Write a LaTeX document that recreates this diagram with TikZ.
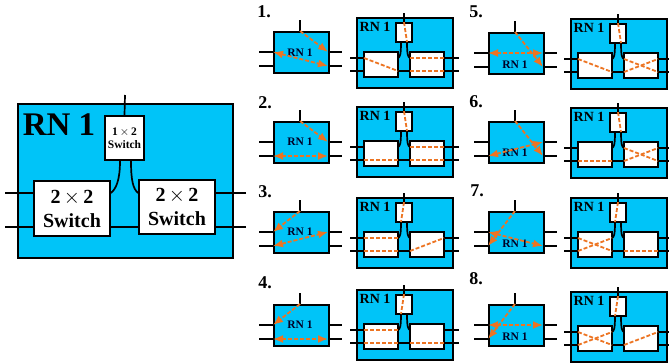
\documentclass[tikz,border=0pt]{standalone}
\usepackage{fontspec}
\setmainfont{Liberation Serif}
\usetikzlibrary{arrows.meta}
\definecolor{rnblue}{HTML}{00C4F8}
\definecolor{rnorange}{HTML}{ED7422}
\tikzset{
  wire/.style={draw=black,line width=1.7pt},
  rnbox/.style={draw=black,fill=rnblue,line width=1.7pt,inner sep=0pt},
  swbox/.style={draw=black,fill=white,line width=1.7pt,inner sep=0pt,font=\bfseries,align=center},
  route/.style={draw=rnorange,line width=1.8pt,dash pattern=on 4pt off 2pt},
  routetip/.style={route,{Latex[length=10pt,width=8pt]}-{Latex[length=10pt,width=8pt]}},
  routeone/.style={route,-{Latex[length=10pt,width=8pt]}},
  numlabel/.style={font=\fontsize{18}{18}\selectfont\bfseries,inner sep=0pt},
}
% small panel: name, x, y, y of its label
\newcommand{\smallrn}[4]{
  \begin{scope}[shift={(#2,#3)}]
    \node[rnbox,anchor=north west,minimum width=55pt,minimum height=41pt] (#1box) at (0,0) {};
    \coordinate (#1N) at (27,0);
    \coordinate (#1W1) at (0,21);
    \coordinate (#1W2) at (0,35);
    \coordinate (#1E1) at (55,21);
    \coordinate (#1E2) at (55,35);
    \coordinate (#1stub) at (27,-11);
    \coordinate (#1wa) at (-14,21);
    \coordinate (#1wb) at (-14,35);
    \coordinate (#1ea) at (69,21);
    \coordinate (#1eb) at (69,35);
    \draw[wire] (#1stub) -- (#1N);
    \draw[wire] (#1wa) -- (#1W1);
    \draw[wire] (#1wb) -- (#1W2);
    \draw[wire] (#1E1) -- (#1ea);
    \draw[wire] (#1E2) -- (#1eb);
    \node[font=\fontsize{11.5}{12}\selectfont\bfseries,inner sep=0pt,text=black!85!blue] (#1text) at (27,#4) {RN 1};
  \end{scope}
}
% detail panel: name, x, y
\newcommand{\detailrn}[3]{
  \begin{scope}[shift={(#2,#3)}]
    \node[rnbox,anchor=north west,minimum width=96pt,minimum height=70pt] (#1box) at (0,0) {};
    \node[font=\fontsize{14}{14}\selectfont\bfseries,inner sep=0pt] (#1text) at (19,10) {RN 1};
    \node[swbox,minimum width=16pt,minimum height=19pt] (#1t) at (48,15.5) {};
    \node[swbox,minimum width=34pt,minimum height=25pt] (#1l) at (25,47.5) {};
    \node[swbox,minimum width=34pt,minimum height=25pt] (#1r) at (71,47.5) {};
    \coordinate (#1stub) at (48,-4);
    \coordinate (#1wa) at (-6,41);
    \coordinate (#1wb) at (-6,54);
    \coordinate (#1ea) at (103,41);
    \coordinate (#1eb) at (103,54);
    \coordinate (#1ul) at (45,25);
    \coordinate (#1ur) at (51,25);
    \coordinate (#1la) at (8,41);
    \coordinate (#1lb) at (8,54);
    \coordinate (#1lc) at (42,41);
    \coordinate (#1ld) at (42,54);
    \coordinate (#1ra) at (54,41);
    \coordinate (#1rb) at (54,54);
    \coordinate (#1rc) at (88,41);
    \coordinate (#1rd) at (88,54);
    \draw[wire] (#1stub) -- (#1t.north);
    \draw[wire] (#1wa) -- (#1la);
    \draw[wire] (#1wb) -- (#1lb);
    \draw[wire] (#1rc) -- (#1ea);
    \draw[wire] (#1rd) -- (#1eb);
    \draw[wire] (#1ld) -- (#1rb);
    \draw[wire] (#1ul) .. controls +(0,13) and +(2,-1) .. (#1lc);
    \draw[wire] (#1ur) .. controls +(0,13) and +(-2,-1) .. (#1ra);
  \end{scope}
}
\begin{document}
\begin{tikzpicture}[x=1pt,y=-1pt]
  \useasboundingbox (0,0) rectangle (669,362);
%
  \node[rnbox,anchor=north west,minimum width=215pt,minimum height=154pt] (big) at (17,103) {};
  \node[font=\fontsize{33}{33}\selectfont\bfseries,inner sep=0pt] (bigtext) at (59,125) {RN 1};
  \node[swbox,minimum width=39pt,minimum height=44pt,font=\fontsize{11.5}{13}\selectfont\bfseries] (bigt) at (124.5,138) {1\,$\times$\,2\\Switch};
  \node[swbox,minimum width=76pt,minimum height=55pt,font=\fontsize{20}{24}\selectfont\bfseries] (bigl) at (72,208.5) {2\,$\times$\,2\\Switch};
  \node[swbox,minimum width=76pt,minimum height=54pt,font=\fontsize{20}{24}\selectfont\bfseries] (bigr) at (177,207) {2\,$\times$\,2\\Switch};
%
  \coordinate (bigstub) at (125,95);
  \coordinate (bigwa) at (5,193);
  \coordinate (bigwb) at (5,227);
  \coordinate (bigea) at (246,193);
  \coordinate (bigeb) at (246,227);
  \draw[wire] (bigstub) -- (bigt.north);
  \draw[wire] (bigwa) -- (bigwa -| bigl.west);
  \draw[wire] (bigwb) -- (bigwb -| bigl.west);
  \draw[wire] (bigea) -- (bigea -| bigr.east);
  \draw[wire] (bigeb) -- (bigeb -| bigr.east);
  \draw[wire] (bigwb -| bigl.east) -- (bigwb -| bigr.west);
  \draw[wire] ([xshift=-4.5pt]bigt.south) .. controls +(0,20) and +(5,-4) .. (bigwa -| bigl.east);
  \draw[wire] ([xshift=6.5pt]bigt.south) .. controls +(0,20) and +(-5,-4) .. (bigwa -| bigr.west);
%
  \foreach \n/\nx/\ny/\sx/\sy/\ty/\dx/\dy/\pa/\pb/\pc in {
    1/264/12/273/31/22/356/17/E1/W1/E2,
    2/265/103/273/121/21/356/106/E1/W2/E2,
    3/265/192/273/211/21/356/197/W1/W2/E1,
    4/265/283/273/304/21/356/289/W1/W2/E2,
    5/476/12/488/32/33/570/18/E2/W1/E1,
    6/476/102/488/121/32/570/107/E2/W2/E1,
    7/477/191/488/211/33/570/197/W2/W1/E2,
    8/476/279/488/304/33/570/291/W2/W1/E1}{
    \node[numlabel] (num\n) at (\nx,\ny) {\n.};
    \smallrn{s\n}{\sx}{\sy}{\ty}
    \detailrn{d\n}{\dx}{\dy}
    \draw[routeone] (s\n N) -- (s\n\pa);
    \draw[routetip] (s\n\pb) -- (s\n\pc);
  }
%
  \draw[route] (d1t.north) -- (d1ur);
  \draw[route] (d1la) -- (d1ld);
  \draw[route] (d1ra) -- (d1rc);
  \draw[route] (d1rb) -- (d1rd);
%
  \draw[route] (d2t.north) -- (d2ur);
  \draw[route] (d2lb) -- (d2ld);
  \draw[route] (d2ra) -- (d2rc);
  \draw[route] (d2rb) -- (d2rd);
%
  \draw[route] (d3t.north) -- (d3ul);
  \draw[route] (d3la) -- (d3lc);
  \draw[route] (d3lb) -- (d3ld);
  \draw[route] (d3rb) -- (d3rc);
%
  \draw[route] (d4t.north) -- (d4ul);
  \draw[route] (d4la) -- (d4lc);
  \draw[route] (d4lb) -- (d4ld);
  \draw[route] (d4rb) -- (d4rd);
%
  \draw[route] (d5t.north) -- (d5ur);
  \draw[route] (d5la) -- (d5ld);
  \draw[route] (d5ra) -- (d5rd);
  \draw[route] (d5rb) -- (d5rc);
%
  \draw[route] (d6t.north) -- (d6ur);
  \draw[route] (d6lb) -- (d6ld);
  \draw[route] (d6ra) -- (d6rd);
  \draw[route] (d6rb) -- (d6rc);
%
  \draw[route] (d7t.north) -- (d7ul);
  \draw[route] (d7la) -- (d7ld);
  \draw[route] (d7lb) -- (d7lc);
  \draw[route] (d7rb) -- (d7rd);
%
  \draw[route] (d8t.north) -- (d8ul);
  \draw[route] (d8la) -- (d8ld);
  \draw[route] (d8lb) -- (d8lc);
  \draw[route] (d8rb) -- (d8rc);
\end{tikzpicture}
\end{document}
